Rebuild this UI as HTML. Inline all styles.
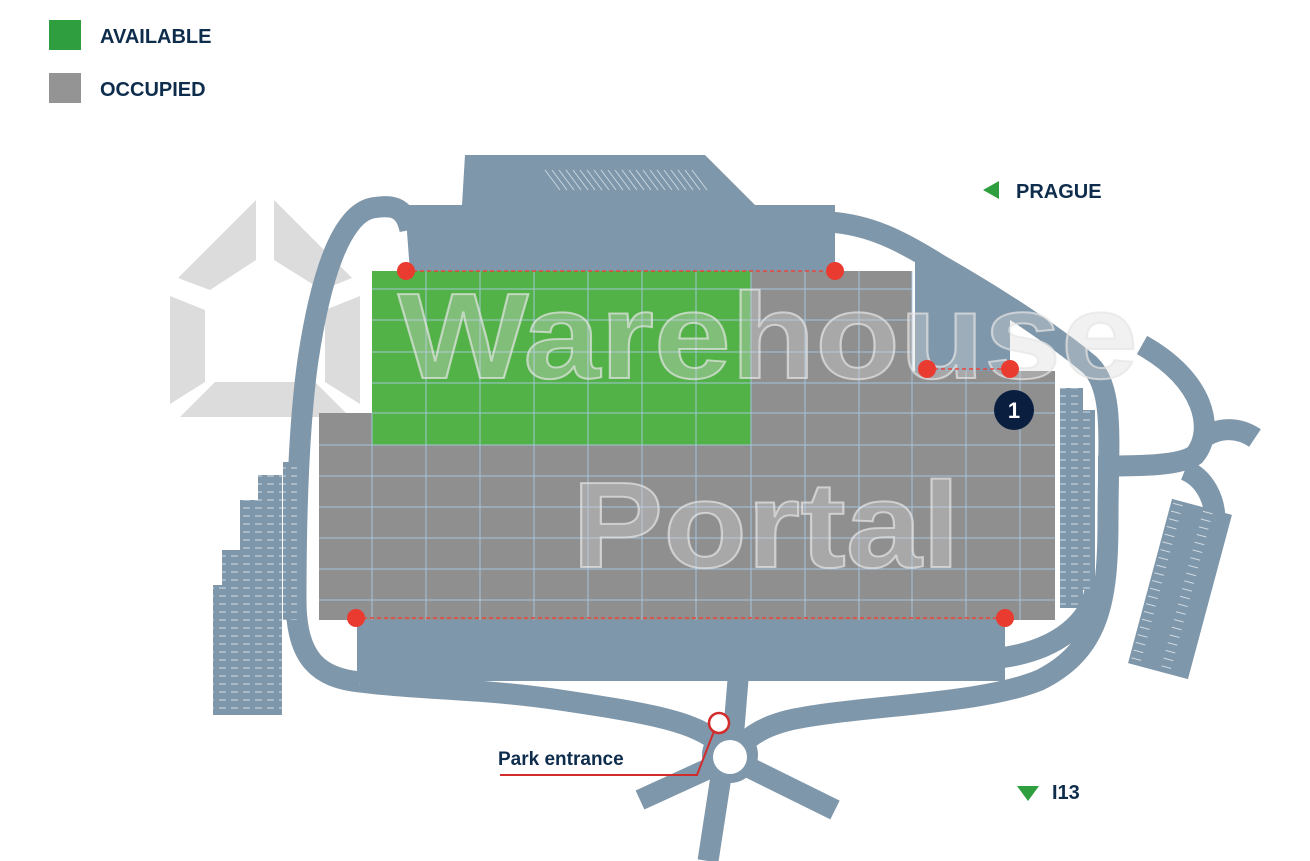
<!DOCTYPE html>
<html><head><meta charset="utf-8"><style>
html,body{margin:0;padding:0;background:#fff;width:1310px;height:861px;overflow:hidden}
svg{display:block}
</style></head><body>
<svg width="1310" height="861" viewBox="0 0 1310 861" xmlns="http://www.w3.org/2000/svg" font-family="Liberation Sans, sans-serif">
<defs>
<pattern id="stripes" x="0" y="0" width="12" height="8" patternUnits="userSpaceOnUse">
<rect width="12" height="8" fill="#7f97aa"/>
<line x1="3" y1="4" x2="10" y2="4" stroke="#d0dbe4" stroke-width="1"/>
</pattern>
<pattern id="stripesR" x="0" y="0" width="31" height="8" patternUnits="userSpaceOnUse">
<rect width="31" height="8" fill="#7f97aa"/>
<line x1="4" y1="4" x2="14" y2="4" stroke="#d0dbe4" stroke-width="1"/>
</pattern>
</defs>
<!-- legend -->
<rect x="49" y="20" width="32" height="30" fill="#2e9e3e"/>
<text x="100" y="43" font-size="20" font-weight="bold" fill="#0e2d4d">AVAILABLE</text>
<rect x="49" y="73" width="32" height="30" fill="#949494"/>
<text x="100" y="96" font-size="20" font-weight="bold" fill="#0e2d4d">OCCUPIED</text>
<polygon points="983,190 999,181 999,199" fill="#2e9e3e"/>
<text x="1016" y="198" font-size="20" font-weight="bold" fill="#0e2d4d">PRAGUE</text>
<polygon points="1017,786 1039,786 1028,801" fill="#2e9e3e"/>
<text x="1052" y="799" font-size="20" font-weight="bold" fill="#0e2d4d">I13</text>

<!-- house logo -->
<g fill="#dcdcdc">
<polygon points="256,200 256,260 210,290 178,278"/>
<polygon points="274,200 274,260 322,290 352,278"/>
<polygon points="170,296 205,310 205,382 170,404"/>
<polygon points="360,296 325,310 325,382 360,404"/>
<polygon points="215,382 315,382 350,417 180,417"/>
</g>

<!-- roads -->
<polygon points="915,240 1010,300 1010,372 915,372" fill="#7f97aa"/>
<g fill="none" stroke="#7f97aa" stroke-width="21" stroke-linecap="butt">
<path d="M410,230 C405,205 390,205 372,208 C340,215 320,280 308,360 C298,430 296,520 296,600 C296,660 320,678 360,682"/>
<path d="M360,682 C420,690 480,688 560,700 C640,712 690,720 715,740"/>
<path d="M830,222 C870,225 900,240 940,265 C1010,305 1060,340 1090,365 C1115,390 1108,440 1108,520 C1108,600 1100,650 1040,680 C980,705 860,705 790,720 C765,726 752,735 745,742"/>
<path d="M1000,658 C1060,650 1090,620 1095,590"/>
<path d="M1098,466 C1140,466 1180,466 1195,455 C1215,430 1205,380 1142,345"/>
<path d="M1200,440 C1220,425 1240,428 1255,438"/>
<path d="M1185,470 C1205,478 1215,500 1215,520"/>
<path d="M738,680 L733,740"/>
<path d="M722,770 L708,861"/>
<path d="M710,768 L640,800"/>
<path d="M750,768 L835,810"/>
</g>
<circle cx="730" cy="755" r="28" fill="#7f97aa"/>
<circle cx="730" cy="757" r="17" fill="#fff"/>

<!-- docks -->
<polygon points="465,155 705,155 755,205 835,205 835,272 410,272 405,205 462,205" fill="#7f97aa"/>
<g stroke="#c8d6e0" stroke-width="1">
<path d="M545,170 l15,20 M552,170 l15,20 M559,170 l15,20 M566,170 l15,20 M573,170 l15,20 M580,170 l15,20 M587,170 l15,20 M594,170 l15,20 M601,170 l15,20 M608,170 l15,20 M615,170 l15,20 M622,170 l15,20 M629,170 l15,20 M636,170 l15,20 M643,170 l15,20 M650,170 l15,20 M657,170 l15,20 M664,170 l15,20 M671,170 l15,20 M678,170 l15,20 M685,170 l15,20 M692,170 l15,20"/>
</g>
<rect x="357" y="619" width="648" height="62" fill="#7f97aa"/>

<!-- parking -->
<g fill="url(#stripes)">
<polygon points="258,475 282,475 282,715 213,715 213,585 222,585 222,550 240,550 240,500 258,500"/>
<rect x="283" y="462" width="14" height="158"/>
<rect x="1060" y="388" width="23" height="220"/>
<rect x="1083" y="410" width="12" height="180"/>
</g>
<g transform="rotate(15 1180 589)">
<rect x="1149" y="504" width="62" height="170" fill="url(#stripesR)" transform="translate(0,0)"/>
</g>

<!-- building -->
<g>
<polygon points="372,271 912,271 912,371 1055,371 1055,620 319,620 319,413 372,413" fill="#8f8f8f"/>
<rect x="372" y="271" width="379" height="174" fill="#52b147"/>
<g stroke="#a9c9e6" stroke-width="1" opacity="0.9">
<path d="M426,271V620 M480,271V620 M534,271V620 M588,271V620 M642,271V620 M696,271V620 M751,271V620 M805,271V620 M859,271V620 M912,271V620 M966,371V620 M1020,371V620 M372,413V620"/>
<path d="M372,289H912 M372,320H912 M372,352H912 M372,383H1055 M372,413H1055 M319,445H1055 M319,476H1055 M319,507H1055 M319,538H1055 M319,569H1055 M319,600H1055"/>
</g>
</g>

<!-- watermark -->
<g font-weight="bold" fill="rgba(215,215,215,0.35)" stroke="rgba(230,230,230,0.7)" stroke-width="2">
<text x="398" y="378" font-size="122" textLength="740" lengthAdjust="spacingAndGlyphs">Warehouse</text>
<text x="572" y="567" font-size="122" textLength="388" lengthAdjust="spacingAndGlyphs">Portal</text>
</g>

<!-- dashed lines & markers -->
<g stroke="#e8463c" stroke-width="1.5" stroke-dasharray="4,3">
<line x1="406" y1="271" x2="835" y2="271"/>
<line x1="927" y1="369" x2="1010" y2="369"/>
<line x1="356" y1="618" x2="1005" y2="618"/>
</g>
<g fill="#ea3b31">
<circle cx="406" cy="271" r="9"/><circle cx="835" cy="271" r="9"/>
<circle cx="927" cy="369" r="9"/><circle cx="1010" cy="369" r="9"/>
<circle cx="356" cy="618" r="9"/><circle cx="1005" cy="618" r="9"/>
</g>
<circle cx="1014" cy="410" r="20" fill="#0a1f3f"/>
<text x="1014" y="418" font-size="22" font-weight="bold" fill="#fff" text-anchor="middle">1</text>

<!-- park entrance -->
<polyline points="500,775 697,775 716,726" fill="none" stroke="#d22b2b" stroke-width="2"/>
<circle cx="719" cy="723" r="10" fill="#fff" stroke="#d22b2b" stroke-width="2.5"/>
<text x="498" y="765" font-size="19" font-weight="bold" fill="#0e2d4d">Park entrance</text>
</svg>
</body></html>
